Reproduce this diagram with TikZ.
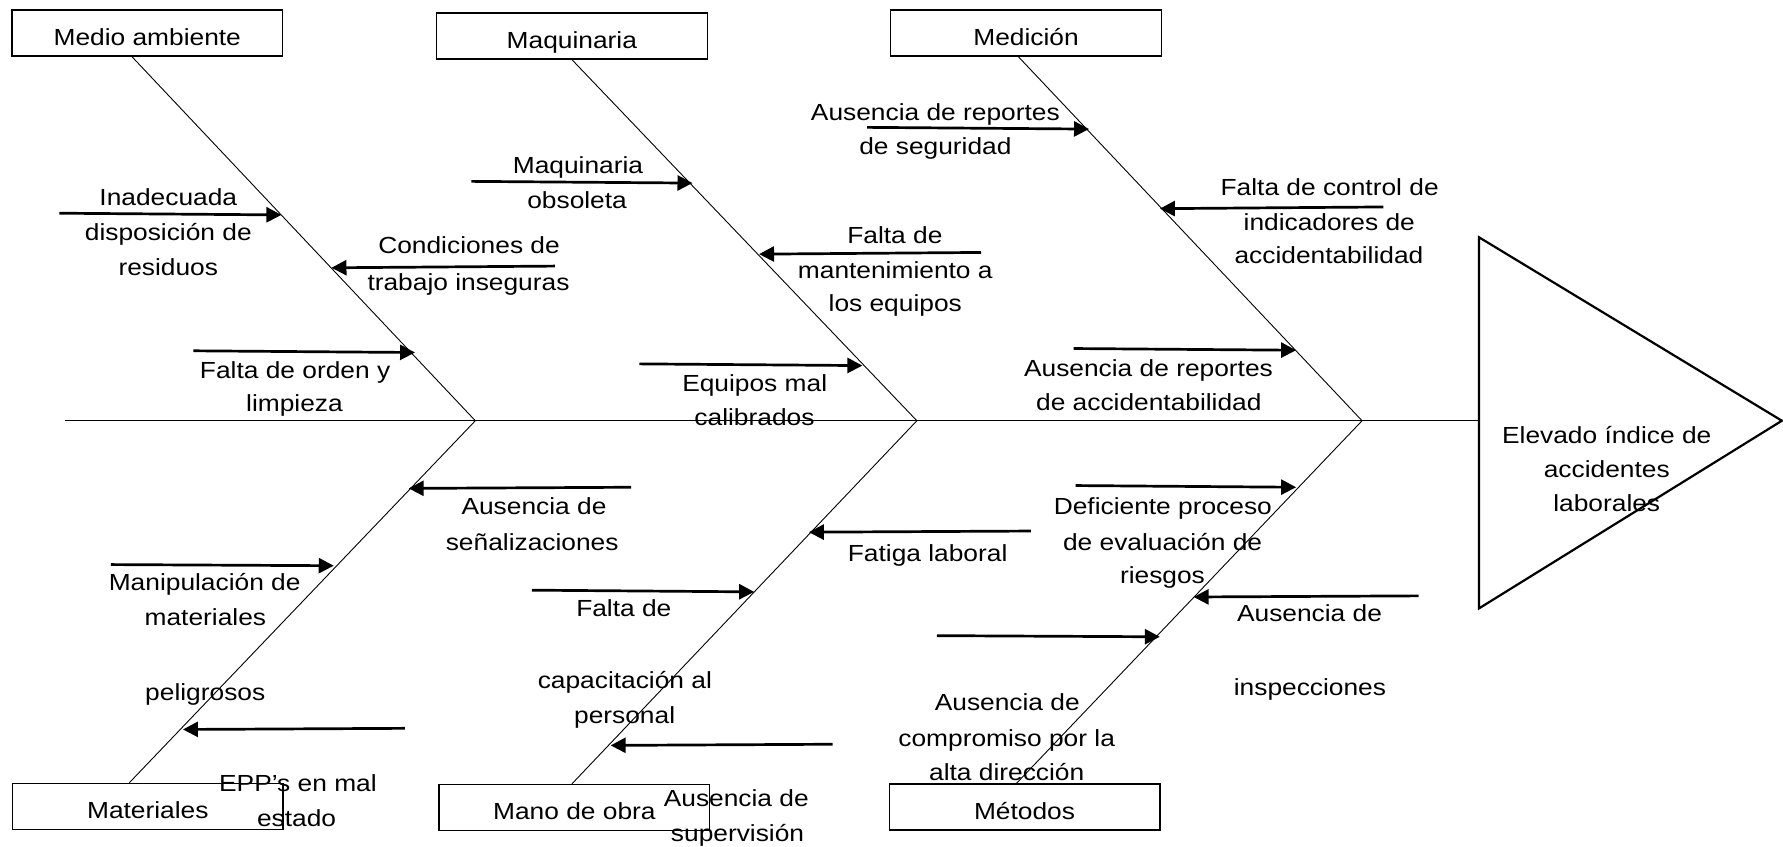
\documentclass[tikz,border=0pt]{standalone}
\usepackage{fontspec}
\setmainfont{Liberation Sans}[FakeStretch=1.13]
\usetikzlibrary{arrows.meta,calc}
\newcommand\lblfont{\fontsize{23.3}{28}\selectfont}
\begin{document}
\begin{tikzpicture}[x=1.1371pt,y=-1.1371pt,
  box/.style={draw,line width=1.3pt,minimum width=270.6pt,minimum height=46pt,inner sep=0pt,font=\lblfont,text height=25pt,text depth=0pt},
  lab/.style={font=\lblfont,anchor=base,inner sep=0pt,yshift=-8.5pt},
  bone/.style={line width=0.9pt},
  spine/.style={line width=1pt},
  cause/.style={line width=2.7pt,-{Triangle[length=15pt,width=15pt]}},
  head/.style={line width=2.2pt,line join=miter}]
\useasboundingbox (0,0) rectangle (1568,744);

% category boxes
\node[box] (mamb) at (129.5,29) {Medio ambiente};
\node[box] (maq)  at (502.9,31.7) {Maquinaria};
\node[box] (med)  at (902.3,29) {Medición};
\node[box] (mat)  at (130,709.1) {Materiales};
\node[box] (mob)  at (505.1,710.1) {Mano de obra};
\node[box] (met)  at (901,709.8) {Métodos};

% spine and head
\coordinate (sp0) at (57,370);
\coordinate (sp1) at (1300.7,370);
\coordinate (j1) at (418,370);
\coordinate (j2) at (806.3,370);
\coordinate (j3) at (1197.8,370);
\draw[spine] (sp0) -- (sp1);
\coordinate (h1) at (1300.7,208.7);
\coordinate (h2) at (1567,370);
\coordinate (h3) at (1300.7,535);
\draw[head] (h1) -- (h2) -- (h3) -- cycle;

% bones
\draw[bone] (mamb.south -| 116,0) -- (j1);
\draw[bone] (maq.south -| 503,0) -- (j2);
\draw[bone] (med.south -| 895.5,0) -- (j3);
\draw[bone] (mat.north -| 113.8,0) -- (j1);
\draw[bone] (mob.north -| 503,0) -- (j2);
\draw[bone] (met.north -| 893.8,0) -- (j3);

% cause arrows
\coordinate (a1s) at (52.2,187.5);  \coordinate (a1e) at (247.5,189);
\coordinate (a2s) at (488,234);     \coordinate (a2e) at (291.5,235.5);
\coordinate (a3s) at (170,308.5);   \coordinate (a3e) at (365,310);
\coordinate (a4s) at (414.6,159.5); \coordinate (a4e) at (609,161);
\coordinate (a5s) at (862.7,222);   \coordinate (a5e) at (667.5,223.5);
\coordinate (a6s) at (562.2,320);   \coordinate (a6e) at (758.4,321.5);
\coordinate (a7s) at (762.5,112);   \coordinate (a7e) at (957.7,113.5);
\coordinate (a8s) at (1216.5,182);  \coordinate (a8e) at (1020,183.5);
\coordinate (a9s) at (944.2,306.5); \coordinate (a9e) at (1139.8,308);
\coordinate (a10s) at (555,428.5);  \coordinate (a10e) at (359.4,429.5);
\coordinate (a11s) at (97.6,496.5); \coordinate (a11e) at (293.5,497.5);
\coordinate (a12s) at (356,640.5);  \coordinate (a12e) at (160.9,641.5);
\coordinate (a13s) at (906.5,467);  \coordinate (a13e) at (711.3,468);
\coordinate (a14s) at (467.8,519);  \coordinate (a14e) at (663.2,520.5);
\coordinate (a15s) at (732.2,654.5);\coordinate (a15e) at (537,655.5);
\coordinate (a16s) at (945.9,427);  \coordinate (a16e) at (1139.8,428.5);
\coordinate (a17s) at (1247.5,524); \coordinate (a17e) at (1049.7,525);
\coordinate (a18s) at (824,559);    \coordinate (a18e) at (1020,560);
\foreach \i in {1,...,18} {\draw[cause] (a\i s) -- (a\i e);}

% labels
\node[lab] (t1a) at (148,173) {Inadecuada};
\node[lab] (t1b) at (148,204) {disposición de};
\node[lab] (t1c) at (148,234.5) {residuos};
\node[lab] (t2a) at (412.5,215.5) {Condiciones de};
\node[lab] (t2b) at (412,247.7) {trabajo inseguras};
\node[lab] (t3a) at (259.5,325.4) {Falta de orden y};
\node[lab] (t3b) at (259,354.7) {limpieza};
\node[lab] (t4a) at (508.3,145) {Maquinaria};
\node[lab] (t4b) at (507.5,175.9) {obsoleta};
\node[lab] (t5a) at (787,206.7) {Falta de};
\node[lab] (t5b) at (787.3,237.5) {mantenimiento a};
\node[lab] (t5c) at (787.3,266.7) {los equipos};
\node[lab] (t6a) at (663.7,337) {Equipos mal};
\node[lab] (t6b) at (663.5,366.4) {calibrados};
\node[lab] (t7a) at (822.6,98.2) {Ausencia de reportes};
\node[lab] (t7b) at (822.6,128) {de seguridad};
\node[lab] (t8a) at (1169.3,164.2) {Falta de control de};
\node[lab] (t8b) at (1169,195) {indicadores de};
\node[lab] (t8c) at (1168.7,224.3) {accidentabilidad};
\node[lab] (t9a) at (1010,324) {Ausencia de reportes};
\node[lab] (t9b) at (1010.3,353.3) {de accidentabilidad};
\node[lab] (t10a) at (469.6,445) {Ausencia de};
\node[lab] (t10b) at (468,476.4) {señalizaciones};
\node[lab] (t11a) at (180,511.5) {Manipulación de};
\node[lab] (t11b) at (180.6,542.3) {materiales};
\node[lab] (t11c) at (180.5,608.3) {peligrosos};
\node[lab] (t12a) at (262,688.9) {EPP’s en mal};
\node[lab] (t12b) at (260.8,719.7) {estado};
\node[lab] (t13a) at (815.8,486.5) {Fatiga laboral};
\node[lab] (t14a) at (548.6,535) {Falta de};
\node[lab] (t14b) at (549.5,598) {capacitación al};
\node[lab] (t14c) at (549.3,628.8) {personal};
\node[lab] (t15a) at (647.5,702) {Ausencia de};
\node[lab] (t15b) at (648.6,732.3) {supervisión};
\node[lab] (t16a) at (1022.6,445) {Deficiente proceso};
\node[lab] (t16b) at (1022.4,476.4) {de evaluación de};
\node[lab] (t16c) at (1022.3,505.7) {riesgos};
\node[lab] (t17a) at (1151.6,539.4) {Ausencia de};
\node[lab] (t17b) at (1152,603.9) {inspecciones};
\node[lab] (t18a) at (885.8,617) {Ausencia de};
\node[lab] (t18b) at (885.3,648.7) {compromiso por la};
\node[lab] (t18c) at (885.3,678.6) {alta dirección};
\node[lab] (e1) at (1413,382.6) {Elevado índice de};
\node[lab] (e2) at (1413,412.7) {accidentes};
\node[lab] (e3) at (1413,442.7) {laborales};
\end{tikzpicture}
\end{document}
